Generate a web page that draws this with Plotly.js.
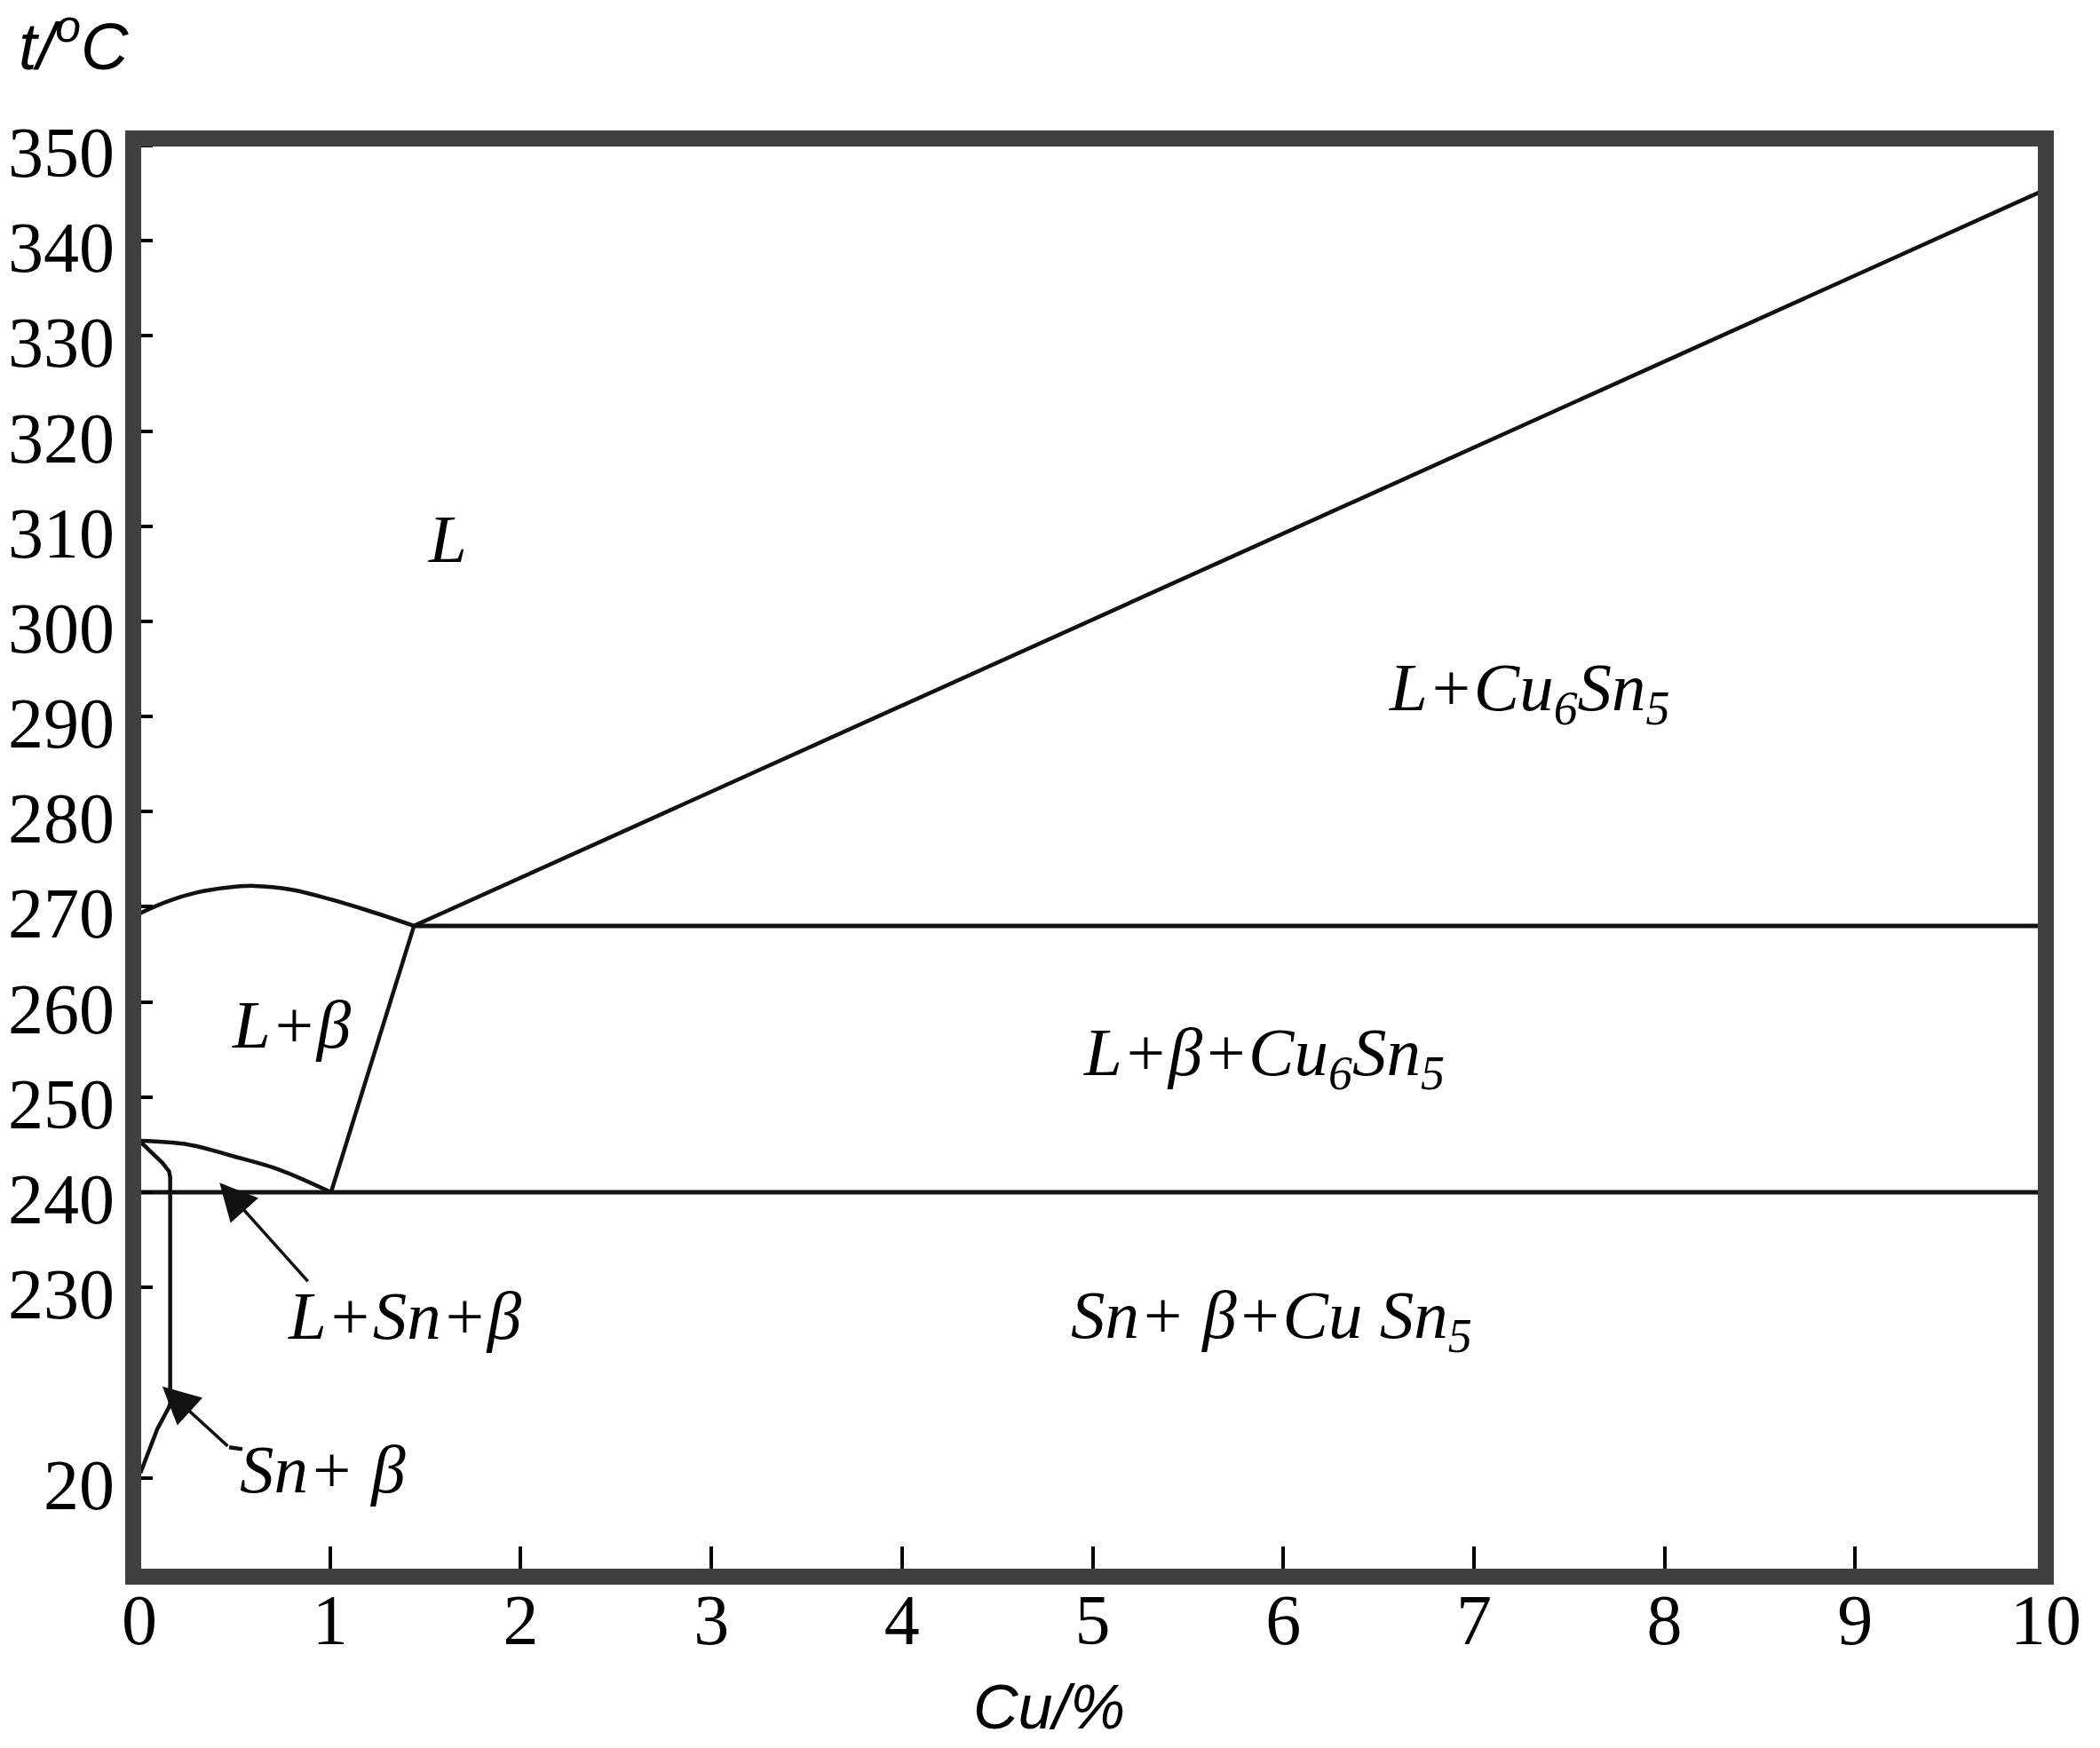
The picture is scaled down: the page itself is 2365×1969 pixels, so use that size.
<!DOCTYPE html>
<html>
<head>
<meta charset="utf-8">
<script src="https://cdn.plot.ly/plotly-3.0.1.min.js"></script>
<style>
  body { margin: 0; background: #fff; }
  #graph { width: 2365px; height: 1969px; }
</style>
</head>
<body>
<div id="graph"></div>
<script>
// axis ticks
var cuTicks = [0, 1, 2, 3, 4, 5, 6, 7, 8, 9, 10];
var tTickVals = [210, 230, 240, 250, 260, 270, 280, 290, 300, 310, 320, 330, 340, 350];
var tTickText = ['20', '230', '240', '250', '260', '270', '280', '290', '300', '310', '320', '330', '340', '350'];

// phase boundaries (Cu %, t °C)
var upperArcCu = [0, 0.15, 0.3, 0.45, 0.6, 0.8, 1.0, 1.2, 1.44];
var upperArcT = [269.3, 270.6, 271.5, 272.0, 272.2, 271.8, 270.8, 269.6, 268.0];
var peritecticCu = [1.44, 1.005];
var peritecticT = [268.0, 240.0];
var lowerArcCu = [0, 0.26, 0.49, 0.73, 1.005];
var lowerArcT = [245.4, 245.0, 243.8, 242.4, 240.0];
var solvusCu = [0, 0.074, 0.12, 0.155, 0.161, 0.161, 0.154, 0.093, 0.047, 0.005];
var solvusT = [245.4, 244.0, 243.1, 242.2, 241.6, 217.8, 217.4, 215.1, 212.6, 210.5];
var liquidusCu = [1.44, 10];
var liquidusT = [268.0, 345.4];
var iso268Cu = [1.44, 10];
var iso268T = [268.0, 268.0];
var iso240Cu = [0, 10];
var iso240T = [240.0, 240.0];

// region labels
var regionText = ['L', 'L+Cu<sub>6</sub>Sn<sub>5</sub>', 'L+β', 'L+β+Cu<sub>6</sub>Sn<sub>5</sub>',
                  'L+Sn+β', 'Sn+ β+Cu Sn<sub>5</sub>', 'Sn+ β'];
var regionCu = [1.615, 7.29, 0.80, 5.90, 1.39, 5.94, 0.96];
var regionT = [308.7, 292.6, 257.6, 254.2, 227.0, 226.6, 210.9];

// pointer arrows
var arrowHeadCu = [0.42, 0.12];
var arrowHeadT = [241.0, 219.6];
var arrowTailCu = [0.89, 0.47];
var arrowTailT = [230.5, 213.2];
var leaderCu = [0.47, 0.54];
var leaderT = [213.2, 213.0];

function boundary(x, y, w, shape) {
    return {
        type: 'scatter', mode: 'lines', x: x, y: y,
        line: { color: '#111', width: w, shape: shape || 'linear', smoothing: 1 },
        hoverinfo: 'skip', showlegend: false
    };
}

var data = [
    boundary(upperArcCu, upperArcT, 4.5, 'spline'),
    boundary(peritecticCu, peritecticT, 4.5),
    boundary(lowerArcCu, lowerArcT, 4.5, 'spline'),
    boundary(solvusCu, solvusT, 4.5),
    boundary(liquidusCu, liquidusT, 4.5),
    boundary(iso268Cu, iso268T, 5),
    boundary(iso240Cu, iso240T, 5),
    boundary(leaderCu, leaderT, 4.5)
];

var labelFont = { family: 'Liberation Serif, serif', size: 77, color: '#000' };

var annotations = regionText.map(function(t, i) {
    return {
        x: regionCu[i], y: regionT[i], xref: 'x', yref: 'y',
        text: '<i>' + t + '</i>', showarrow: false,
        font: labelFont, xanchor: 'center', yanchor: 'middle'
    };
});

arrowHeadCu.forEach(function(c, i) {
    annotations.push({
        x: c, y: arrowHeadT[i], xref: 'x', yref: 'y',
        ax: arrowTailCu[i], ay: arrowTailT[i], axref: 'x', ayref: 'y',
        text: '', showarrow: true, arrowhead: 2, arrowsize: 2.4,
        arrowwidth: 3.5, arrowcolor: '#111', standoff: 0, startstandoff: 0
    });
});

// axis titles
annotations.push({
    x: -0.031, y: 1.067, xref: 'paper', yref: 'paper',
    text: '<i>t/<sup>o</sup>C</i>', showarrow: false,
    font: { family: 'Liberation Sans, sans-serif', size: 74, color: '#000' },
    xanchor: 'center', yanchor: 'middle'
});
annotations.push({
    x: 0.479, y: -0.091, xref: 'paper', yref: 'paper',
    text: '<i>Cu/%</i>', showarrow: false,
    font: { family: 'Liberation Sans, sans-serif', size: 70, color: '#000' },
    xanchor: 'center', yanchor: 'middle'
});

var tickFont = { family: 'Liberation Serif, serif', size: 80, color: '#000' };

var layout = {
    width: 2365, height: 1969, autosize: false,
    margin: { l: 150, r: 61, t: 156, b: 193, pad: 0 },
    paper_bgcolor: '#fff', plot_bgcolor: '#fff',
    xaxis: {
        range: [-0.033, 10.0], tickmode: 'array', tickvals: cuTicks,
        ticks: 'inside', ticklen: 34, tickwidth: 4, tickcolor: '#000',
        showgrid: false, zeroline: false, showline: false,
        tickfont: tickFont, ticklabelstandoff: -5
    },
    yaxis: {
        range: [199.6, 350.75], tickmode: 'array', tickvals: tTickVals, ticktext: tTickText,
        ticks: 'inside', ticklen: 22, tickwidth: 4, tickcolor: '#000',
        showgrid: false, zeroline: false, showline: false,
        tickfont: tickFont, ticklabelstandoff: 20, ticklabelshift: 7
    },
    shapes: [{
        type: 'rect', xref: 'paper', yref: 'paper', x0: 0, x1: 1, y0: 0, y1: 1,
        line: { color: '#404040', width: 18 }, layer: 'above'
    }],
    annotations: annotations
};

Plotly.newPlot('graph', data, layout, { staticPlot: true });
</script>
</body>
</html>
